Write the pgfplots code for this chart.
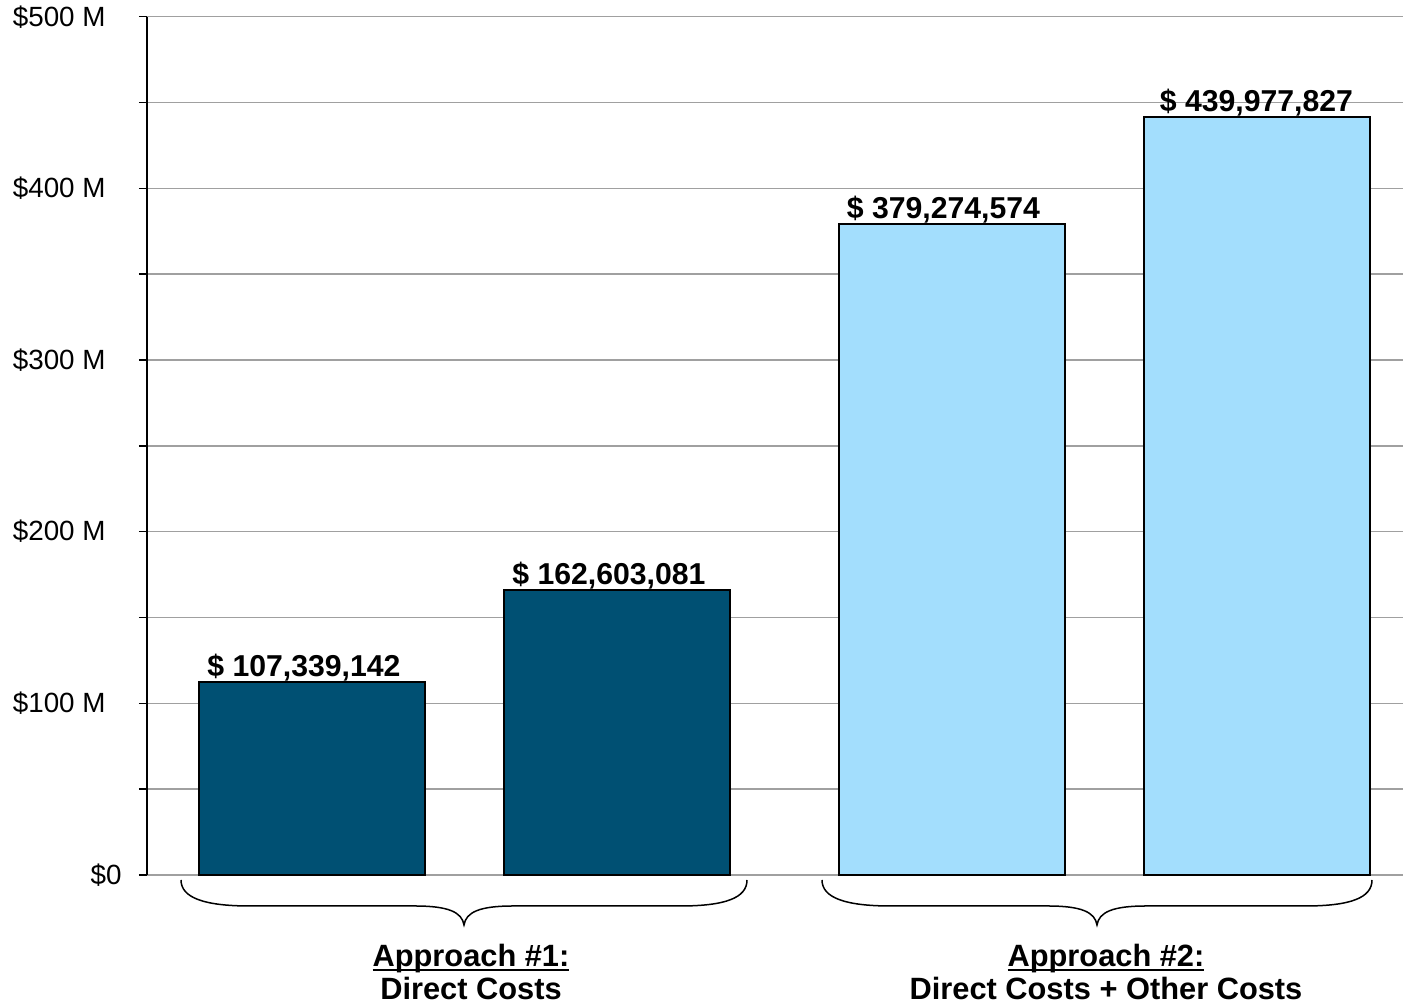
\documentclass[border=0pt]{standalone}
\usepackage{pgfplots}
\pgfplotsset{compat=1.18}
\usepackage{fontspec}
\setmainfont{Liberation Sans}
\definecolor{darkbar}{RGB}{0,80,115}
\definecolor{lightbar}{RGB}{163,222,253}
\definecolor{gridgray}{RGB}{160,160,160}
\newcommand{\ul}[1]{\setbox0\hbox{#1}\rlap{\rule[-2pt]{\wd0}{1pt}}\box0}
\begin{document}
\begin{tikzpicture}
\path[use as bounding box] (0,0) rectangle (702.5pt,503pt);
\begin{axis}[
  at={(73.5pt,65.5pt)}, anchor=south west,
  scale only axis, width=628pt, height=429.15pt,
  xmin=147, xmax=1403, ymin=0, ymax=500,
  axis x line=none, axis y line*=left,
  y axis line style={black, line width=0.75pt},
  ytick={0,50,...,500},
  yticklabels={\$0\kern-8pt,{},\$100 M,{},\$200 M,{},\$300 M,{},\$400 M,{},\$500 M},
  yticklabel style={font=\fontsize{13.9}{16}\selectfont, inner sep=0pt, xshift=-16.5pt},
  tick align=outside, major tick length=4pt,
  major tick style={black, line width=0.75pt},
  ymajorgrids, major grid style={gridgray, line width=0.75pt},
  clip=false,
]
\addplot[ybar, bar width=113pt, bar shift=0pt, fill=darkbar, draw=black, line width=1pt,
  nodes near coords, point meta=explicit symbolic,
  nodes near coords style={font=\bfseries\fontsize{15.1}{18}\selectfont, anchor=base, inner sep=0pt, yshift=3pt, xshift=-4pt}]
  coordinates {(312,112.4) [\$ 107,339,142] (617,166.0) [\$ 162,603,081]};
\addplot[ybar, bar width=113pt, bar shift=0pt, fill=lightbar, draw=black, line width=1pt,
  nodes near coords, point meta=explicit symbolic,
  nodes near coords style={font=\bfseries\fontsize{15.1}{18}\selectfont, anchor=base, inner sep=0pt, yshift=3pt, xshift=-4pt}]
  coordinates {(951.5,379.1) [\$ 379,274,574]};
\addplot[ybar, bar width=113pt, bar shift=0pt, fill=lightbar, draw=black, line width=1pt,
  nodes near coords, point meta=explicit symbolic,
  nodes near coords style={font=\bfseries\fontsize{15.1}{18}\selectfont, anchor=base, inner sep=0pt, yshift=3pt}]
  coordinates {(1256.5,441.4) [\$ 439,977,827]};
\end{axis}
\begin{scope}[yshift=503pt, x=0.5pt, y=-0.5pt]
  \draw[black, line width=0.75pt]
    (181,880) .. controls (181,898) and (205,906) .. (250,906) -- (415,906)
    .. controls (448,906) and (462,912) .. (464,925)
    .. controls (466,912) and (480,906) .. (513,906) -- (680,906)
    .. controls (725,906) and (747,898) .. (747,880);
  \draw[black, line width=0.75pt]
    (822,880) .. controls (822,898) and (846,906) .. (891,906) -- (1048,906)
    .. controls (1081,906) and (1095,912) .. (1097,925)
    .. controls (1099,912) and (1113,906) .. (1146,906) -- (1305,906)
    .. controls (1350,906) and (1372,898) .. (1372,880);
  \node[anchor=base, inner sep=0pt, font=\bfseries\fontsize{15.4}{18}\selectfont] at (471,967) {\ul{Approach \#1:}};
  \node[anchor=base, inner sep=0pt, font=\bfseries\fontsize{15.4}{18}\selectfont] at (471,1000) {Direct Costs};
  \node[anchor=base, inner sep=0pt, font=\bfseries\fontsize{15.4}{18}\selectfont] at (1106,967) {\ul{Approach \#2:}};
  \node[anchor=base, inner sep=0pt, font=\bfseries\fontsize{15.4}{18}\selectfont] at (1106,1000) {Direct Costs + Other Costs};
\end{scope}
\end{tikzpicture}
\end{document}
